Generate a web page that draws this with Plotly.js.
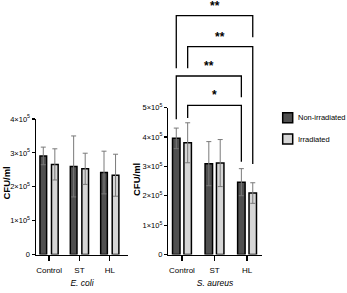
<!DOCTYPE html>
<html>
<head>
<meta charset="utf-8">
<script src="https://cdn.plot.ly/plotly-3.0.1.min.js"></script>
<style>html,body{margin:0;padding:0;background:#fff}#chart{width:347px;height:293px}</style>
</head>
<body>
<div id="chart"></div>
<script>
// ---- data ----
const categories = ["Control", "ST", "HL"];
const seriesNames = ["Non-irradiated", "Irradiated"];
const ecoliNonIrr = [2.91e5, 2.60e5, 2.42e5];
const ecoliNonIrrSD = [0.26e5, 0.90e5, 0.63e5];
const ecoliIrr = [2.66e5, 2.53e5, 2.34e5];
const ecoliIrrSD = [0.46e5, 0.46e5, 0.62e5];
const saureusNonIrr = [3.95e5, 3.09e5, 2.46e5];
const saureusNonIrrSD = [0.35e5, 0.75e5, 0.46e5];
const saureusIrr = [3.80e5, 3.11e5, 2.09e5];
const saureusIrrSD = [0.68e5, 0.80e5, 0.35e5];
const yTickValsEcoli = [0, 1e5, 2e5, 3e5, 4e5];
const yTickValsSaureus = [0, 1e5, 2e5, 3e5, 4e5, 5e5];
const yTickText = ["0", "1×10<sup>5</sup>", "2×10<sup>5</sup>", "3×10<sup>5</sup>", "4×10<sup>5</sup>", "5×10<sup>5</sup>"];
const yTitle = "CFU/ml";
const sigLabels = ["**", "**", "**", "*"];

// ---- styles / geometry ----
const W = 347, H = 293;
const SANS = "Liberation Sans, Arial, sans-serif";
const darkFill = "#505050", lightFill = "#d6d6d6";
const errColor = "#7a7a7a";
const px = v => v / W, py = v => (H - v) / H;

const ax1 = {x0: 36, x1: 128, range: [-0.43, 2.6]};
const ax2 = {x0: 168.3, x1: 261.7, range: [-0.42, 2.45]};
const barW1 = 0.22, off1 = [-0.30, 0.08];
const barW2 = 0.23, off2 = [-0.29, 0.06];

function bar(x, y, sd, name, fill, xa, ya, w, off) {
  return {
    type: "bar", x: x, y: y, name: name, xaxis: xa, yaxis: ya,
    width: w, offset: off, showlegend: false,
    marker: {color: fill, line: {color: "#000", width: 1.5}},
    error_y: {type: "data", array: sd, visible: true, color: errColor, thickness: 1, width: 2.5}
  };
}

const data = [
  bar(categories, ecoliNonIrr, ecoliNonIrrSD, seriesNames[0], darkFill, "x", "y", barW1, off1[0]),
  bar(categories, ecoliIrr, ecoliIrrSD, seriesNames[1], lightFill, "x", "y", barW1, off1[1]),
  bar(categories, saureusNonIrr, saureusNonIrrSD, seriesNames[0], darkFill, "x2", "y2", barW2, off2[0]),
  bar(categories, saureusIrr, saureusIrrSD, seriesNames[1], lightFill, "x2", "y2", barW2, off2[1])
];

const tickFont = {family: SANS, size: 8, color: "#000"};
const yTickFont = {family: SANS, size: 7.5, color: "#000"};
const commonX = {
  type: "category", showline: true, linecolor: "#000", linewidth: 1.5,
  ticks: "outside", ticklen: 5, tickwidth: 1.2, tickcolor: "#000", ticklabelstandoff: 2,
  showgrid: false, zeroline: false, fixedrange: true, tickfont: tickFont
};
const commonY = {
  showline: true, linecolor: "#000", linewidth: 1.5,
  ticks: "outside", ticklen: 3, tickwidth: 1.2, tickcolor: "#000",
  showgrid: false, zeroline: false, fixedrange: true, tickfont: yTickFont,
  tickmode: "array"
};
const xTitleFont = {family: SANS, size: 8.5, color: "#000"};
const yTitleFont = {family: SANS, size: 9.5, color: "#000"};

const layout = {
  width: W, height: H, margin: {l: 0, r: 0, t: 0, b: 0},
  paper_bgcolor: "#fff", plot_bgcolor: "#fff",
  barmode: "overlay", showlegend: false,
  xaxis: Object.assign({}, commonX, {domain: [px(ax1.x0), px(ax1.x1)], range: ax1.range, anchor: "y",
    title: {text: "<i>E. coli</i>", font: xTitleFont, standoff: 6}}),
  yaxis: Object.assign({}, commonY, {domain: [py(254.5), py(119)], range: [0, 4e5], anchor: "x",
    tickvals: yTickValsEcoli, ticktext: yTickText.slice(0, 5)}),
  xaxis2: Object.assign({}, commonX, {domain: [px(ax2.x0), px(ax2.x1)], range: ax2.range, anchor: "y2",
    title: {text: "<i>S. aureus</i>", font: xTitleFont, standoff: 6}}),
  yaxis2: Object.assign({}, commonY, {domain: [py(254.5), py(107.5)], range: [0, 5e5], anchor: "x2",
    tickvals: yTickValsSaureus, ticktext: yTickText.slice(0, 6)}),
  shapes: [], annotations: []
};

// y-axis titles (placed to the left of each panel's tick labels)
[[5.5, 183], [136, 180]].forEach(p => {
  layout.annotations.push({xref: "paper", yref: "paper", x: px(p[0]), y: py(p[1]),
    xanchor: "center", yanchor: "middle", textangle: -90, showarrow: false,
    text: "<b>" + yTitle + "</b>", font: yTitleFont});
});

// category index + bar-center offset -> paper x on the right subplot
function barCenterPaper(ci, si) {
  const c = ci + off2[si] + barW2 / 2;
  const f = (c - ax2.range[0]) / (ax2.range[1] - ax2.range[0]);
  return px(ax2.x0 + f * (ax2.x1 - ax2.x0));
}
// significance brackets: [leftCat, leftSeries, rightCat, rightSeries, topY, leftBottom, rightBottom] (pixels)
const brackets = [
  [0, 0, 2, 1, 15.7, 68.3, 37.3],
  [0, 1, 2, 1, 46.7, 68.3, 164],
  [0, 0, 2, 0, 76, 119.3, 97.3],
  [0, 1, 2, 0, 105.3, 118, 161.7]
];
brackets.forEach((b, k) => {
  const xl = barCenterPaper(b[0], b[1]), xr = barCenterPaper(b[2], b[3]);
  layout.shapes.push({type: "path", xref: "paper", yref: "paper",
    path: `M${xl},${py(b[5])} L${xl},${py(b[4])} L${xr},${py(b[4])} L${xr},${py(b[6])}`,
    line: {color: "#000", width: 1.3}});
  layout.annotations.push({xref: "paper", yref: "paper", x: (xl + xr) / 2, y: py(b[4]),
    xanchor: "center", yanchor: "bottom", yshift: 1, showarrow: false,
    text: "<b>" + sigLabels[k] + "</b>", font: {family: SANS, size: 12, color: "#000"}});
});

// legend drawn as boxes + labels
[[seriesNames[0], darkFill, 117.7], [seriesNames[1], lightFill, 139]].forEach(l => {
  layout.shapes.push({type: "rect", xref: "paper", yref: "paper",
    x0: px(282.7), x1: px(292.7), y0: py(l[2] + 5), y1: py(l[2] - 5),
    fillcolor: l[1], line: {color: "#000", width: 1.5}});
  layout.annotations.push({xref: "paper", yref: "paper", x: px(296), y: py(l[2]),
    xanchor: "left", yanchor: "middle", showarrow: false, text: l[0],
    font: {family: SANS, size: 7.5, color: "#000"}});
});

Plotly.newPlot("chart", data, layout, {staticPlot: true, displayModeBar: false});
</script>
</body>
</html>
